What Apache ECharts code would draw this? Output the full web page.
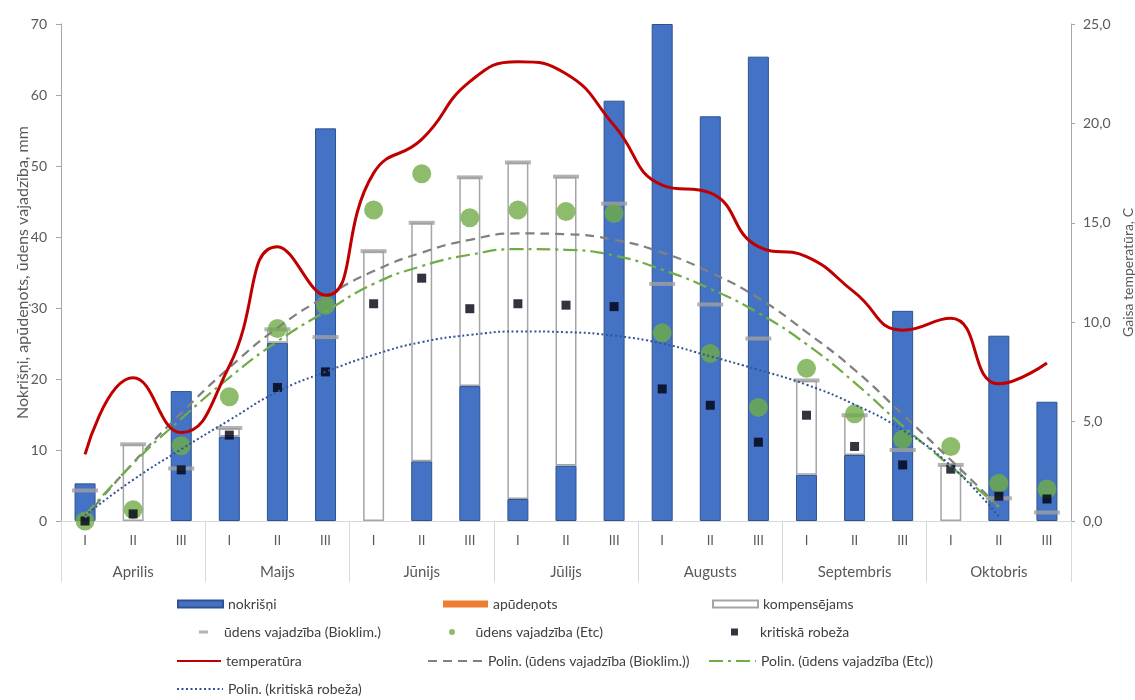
<!DOCTYPE html>
<html>
<head>
<meta charset="utf-8">
<script src="https://cdn.jsdelivr.net/npm/echarts@6/dist/echarts.min.js"></script>
<style>
  html, body { margin: 0; padding: 0; background: #ffffff; }
  #chart { width: 1135px; height: 700px; }
</style>
</head>
<body>
<div id="chart"></div>
<script>
// Ten-day periods (dekādes) per month, April–October
const months = ['Aprilis', 'Maijs', 'Jūnijs', 'Jūlijs', 'Augusts', 'Septembris', 'Oktobris'];
const decades = ['I', 'II', 'III'];

// Precipitation, irrigation and compensable deficit, mm
const nokrisni      = [5.3, 0, 18.3, 11.9, 25.1, 55.3, 0, 8.4, 19.0, 3.1, 7.8, 59.2, 70.0, 57.0, 65.4, 6.5, 9.3, 29.6, 0, 26.1, 16.8];
const apudenots     = [0, 0, 0, 0, 0, 0, 0, 0, 0, 0, 0, 0, 0, 0, 0, 0, 0, 0, 0, 0, 0];
const kompensejams  = [0, 10.8, 0, 1.2, 1.9, 0, 38.0, 33.6, 29.4, 47.4, 40.7, 0, 0, 0, 0, 13.3, 5.6, 0, 7.9, 0, 0];

// Water demand and critical threshold, mm
const vajBioklim    = [4.3, 10.8, 7.4, 13.1, 27.0, 25.9, 38.0, 42.0, 48.4, 50.5, 48.5, 44.7, 33.4, 30.5, 25.7, 19.8, 14.9, 10.0, 7.9, 3.2, 1.2];
const vajEtc        = [0, 1.6, 10.6, 17.5, 27.1, 30.4, 43.8, 48.9, 42.7, 43.8, 43.6, 43.3, 26.5, 23.6, 16.0, 21.5, 15.1, 11.5, 10.5, 5.3, 4.5];
const kritiska      = [0, 1.0, 7.2, 12.1, 18.8, 21.0, 30.6, 34.2, 29.9, 30.6, 30.4, 30.2, 18.6, 16.3, 11.1, 14.9, 10.5, 7.9, 7.3, 3.5, 3.1];

// Air temperature, °C
const temperatura   = [3.35, 7.2, 4.45, 7.8, 13.8, 11.35, 17.5, 19.2, 22.1, 23.1, 22.5, 19.9, 16.9, 16.5, 13.8, 13.3, 11.5, 9.6, 10.2, 6.9, 7.95];

// Polynomial trend curves
const trendBioklim  = [0.5, 8.2, 15.2, 21.6, 27.2, 31.6, 35.2, 37.8, 39.6, 40.5, 40.4, 39.6, 37.8, 35.0, 31.4, 26.6, 21.3, 15.0, 8.6, 2.0, null];
const trendEtc      = [0.8, 8.1, 14.4, 20.2, 25.3, 29.5, 33.4, 35.9, 37.5, 38.3, 38.2, 37.4, 35.4, 32.7, 29.3, 24.9, 19.5, 13.4, 7.7, 2.0, null];
const trendKritiska = [0.8, 5.8, 10.1, 14.2, 18.2, 21.0, 23.4, 25.2, 26.2, 26.7, 26.6, 26.1, 25.0, 23.2, 21.3, 19.2, 16.4, 12.8, 7.8, 0.6, null];

const names = [
  'nokrišņi', 'apūdeņots', 'kompensējams',
  'ūdens vajadzība (Bioklim.)', 'ūdens vajadzība (Etc)', 'kritiskā robeža',
  'temperatūra', 'Polin. (ūdens vajadzība (Bioklim.))', 'Polin. (ūdens vajadzība (Etc))',
  'Polin. (kritiskā robeža)'
];

const FONT = 'Lato';
const TEXT = '#595959';

const categories = [];
months.forEach(m => decades.forEach(d => categories.push(m + '|' + d)));

// empty bar segments are left out so no border is drawn for them
const bars = arr => arr.map(v => (v === 0 ? '-' : v));

// legend layout: one small legend per entry, 3 columns x 4 rows
const rowCenter = [605, 633, 662, 690];
const legendLayout = [
  { name: names[0], left: 177, row: 0, w: 45, h: 7, icon: 'rect' },
  { name: names[1], left: 443, row: 0, w: 45, h: 7, icon: 'rect' },
  { name: names[2], left: 712, row: 0, w: 45, h: 7, icon: 'rect' },
  { name: names[3], left: 199, row: 1, w: 9, h: 3, icon: 'rect', pad: 11 },
  { name: names[4], left: 449, row: 1, w: 37, h: 6, icon: 'circle' },
  { name: names[5], left: 731, row: 1, w: 7, h: 7, icon: 'rect', pad: 17 },
  { name: names[6], left: 176, row: 2, w: 44, h: 7, lineOnly: true },
  { name: names[7], left: 427, row: 2, w: 55, h: 7, lineOnly: true },
  { name: names[8], left: 708, row: 2, w: 47, h: 7, lineOnly: true },
  { name: names[9], left: 176, row: 3, w: 46, h: 7, lineOnly: true }
];

const legends = legendLayout.map(it => {
  const item = { name: it.name };
  if (it.icon) item.icon = it.icon;
  if (it.lineOnly) item.itemStyle = { opacity: 0 };
  return {
    data: [item],
    left: it.left,
    top: rowCenter[it.row] - 8,
    padding: 0,
    itemWidth: it.w,
    itemHeight: it.h,
    selectedMode: false,
    textStyle: { fontFamily: FONT, fontSize: 14, color: '#404040', padding: [0, 0, 0, it.pad || 0] }
  };
});

const option = {
  animation: false,
  backgroundColor: '#ffffff',
  textStyle: { fontFamily: FONT },
  legend: legends,
  grid: { left: 61, right: 64, top: 24, bottom: 179, containLabel: false, outerBoundsMode: 'none' },
  xAxis: [
    {
      type: 'category',
      data: categories,
      position: 'bottom',
      axisLine: { show: true, lineStyle: { color: '#d9d9d9', width: 1 } },
      axisTick: { show: false },
      axisLabel: {
        interval: 0, margin: 13, color: TEXT, fontSize: 13, fontFamily: FONT,
        formatter: v => v.split('|')[1]
      },
      splitLine: { show: false }
    },
    {
      type: 'category',
      data: months,
      position: 'bottom',
      offset: 0,
      boundaryGap: true,
      axisLine: { show: false },
      axisTick: { show: true, interval: 0, length: 61, lineStyle: { color: '#d9d9d9', width: 1 } },
      axisLabel: { interval: 0, margin: 44, color: TEXT, fontSize: 15, fontFamily: FONT },
      splitLine: { show: false }
    }
  ],
  yAxis: [
    {
      type: 'value', position: 'left', min: 0, max: 70, interval: 10,
      name: 'Nokrišņi, apūdeņots, ūdens vajadzība, mm',
      nameLocation: 'middle', nameGap: 30, nameMoveOverlap: false,
      nameTextStyle: { color: TEXT, fontSize: 16, fontFamily: FONT },
      axisLine: { show: true, lineStyle: { color: '#a6a6a6', width: 1 } },
      axisTick: { show: true, length: 5, lineStyle: { color: '#a6a6a6' } },
      axisLabel: { margin: 14, color: TEXT, fontSize: 14, fontFamily: FONT },
      splitLine: { show: false }
    },
    {
      type: 'value', position: 'right', min: 0, max: 25, interval: 5,
      name: 'Gaisa temperatūra, C',
      nameLocation: 'middle', nameGap: 50, nameMoveOverlap: false,
      nameTextStyle: { color: TEXT, fontSize: 14, fontFamily: FONT },
      axisLine: { show: true, lineStyle: { color: '#a6a6a6', width: 1 } },
      axisTick: { show: true, length: 4, lineStyle: { color: '#a6a6a6' } },
      axisLabel: {
        margin: 12, color: TEXT, fontSize: 14, fontFamily: FONT,
        formatter: v => v.toFixed(1).replace('.', ',')
      },
      splitLine: { show: false }
    }
  ],
  series: [
    {
      name: names[0], type: 'bar', stack: 'mm', barWidth: 21, data: bars(nokrisni),
      itemStyle: { color: '#4472c4', borderColor: '#2f528f', borderWidth: 1 }
    },
    {
      name: names[1], type: 'bar', stack: 'mm', barWidth: 21, data: bars(apudenots),
      itemStyle: { color: '#ed7d31' }
    },
    {
      name: names[2], type: 'bar', stack: 'mm', barWidth: 21, data: bars(kompensejams),
      itemStyle: { color: '#ffffff', borderColor: '#a5a5a5', borderWidth: 1.5 }
    },
    {
      name: names[3], type: 'scatter', data: vajBioklim, symbol: 'rect', symbolSize: [26, 4],
      itemStyle: { color: '#a0a0a0' }
    },
    {
      name: names[4], type: 'scatter', data: vajEtc, symbol: 'circle', symbolSize: 19,
      itemStyle: { color: '#70ad47' }
    },
    {
      name: names[5], type: 'scatter', data: kritiska, symbol: 'rect', symbolSize: 9,
      itemStyle: { color: '#000010' }
    },
    {
      name: names[7], type: 'line', data: trendBioklim, smooth: true, symbol: 'none',
      lineStyle: { color: '#808080', width: 2.25, type: [9, 6] }
    },
    {
      name: names[8], type: 'line', data: trendEtc, smooth: true, symbol: 'none',
      lineStyle: { color: '#70ad47', width: 2.25, type: [14, 5, 3, 5] }
    },
    {
      name: names[9], type: 'line', data: trendKritiska, smooth: true, symbol: 'none',
      lineStyle: { color: '#2f5597', width: 2, type: [2, 2.5] }
    },
    {
      name: names[6], type: 'line', yAxisIndex: 1, data: temperatura, smooth: true, symbol: 'none',
      lineStyle: { color: '#c00000', width: 3 }
    }
  ]
};

const chart = echarts.init(document.getElementById('chart'), null, { renderer: 'canvas' });
chart.setOption(option);
</script>
</body>
</html>
